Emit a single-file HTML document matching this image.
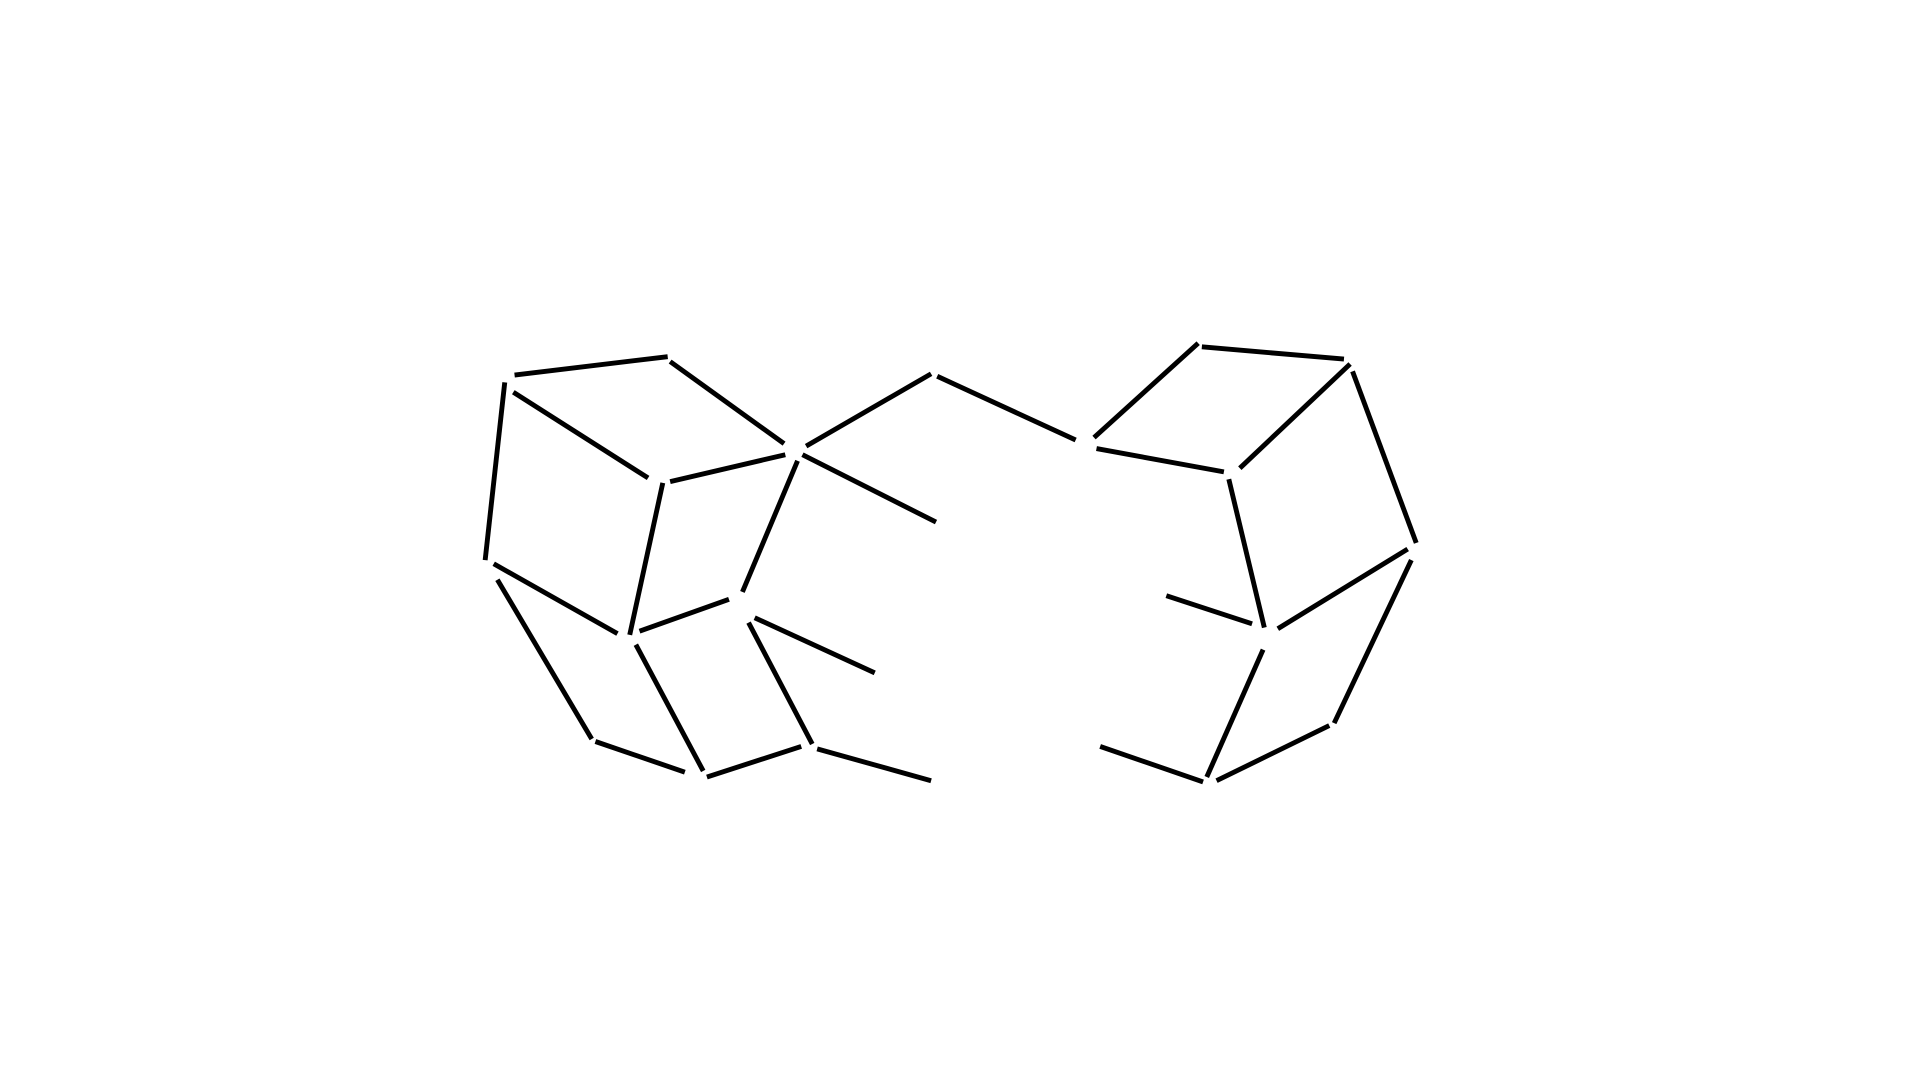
<!DOCTYPE html>
<html><head><meta charset="utf-8"><style>html,body{margin:0;padding:0;background:#fff;width:1921px;height:1081px;overflow:hidden}</style></head>
<body>
<svg id="mol" width="1921" height="1081" viewBox="0 0 1568 882" preserveAspectRatio="none" xmlns="http://www.w3.org/2000/svg"></svg>
<script>
const bondStart = [[420,306],[547,295],[412,312],[419,320],[547,393],[658,364],[765,307],[655,371],[651,376],[541,394],[403,460],[522,515],[406,473],[519,526],[486,605],[577,634],[611,508],[616,504],[667,611],[893,357],[981,283],[1102,297],[895,366],[1104,303],[1003,391],[952,486],[1043,513],[1152,457],[1031,530],[993,637],[898,609]];
const bondEnd = [[545,291],[640,362],[396,457],[529,390],[641,371],[760,305],[878,359],[764,426],[606,483],[514,518],[504,517],[595,489],[483,603],[574,629],[559,630],[654,609],[663,607],[714,549],[760,637],[978,280],[1097,293],[1012,382],[999,385],[1156,443],[1032,512],[1022,509],[1149,448],[1089,590],[985,634],[1085,592],[982,638]];
const svg = document.getElementById('mol');
for (let i = 0; i < bondStart.length; i++) {
  const l = document.createElementNS('http://www.w3.org/2000/svg','line');
  l.setAttribute('x1', bondStart[i][0]); l.setAttribute('y1', bondStart[i][1]);
  l.setAttribute('x2', bondEnd[i][0]); l.setAttribute('y2', bondEnd[i][1]);
  l.setAttribute('stroke', '#000'); l.setAttribute('stroke-width', '4');
  
  
  svg.appendChild(l);
}
</script>
</body></html>
